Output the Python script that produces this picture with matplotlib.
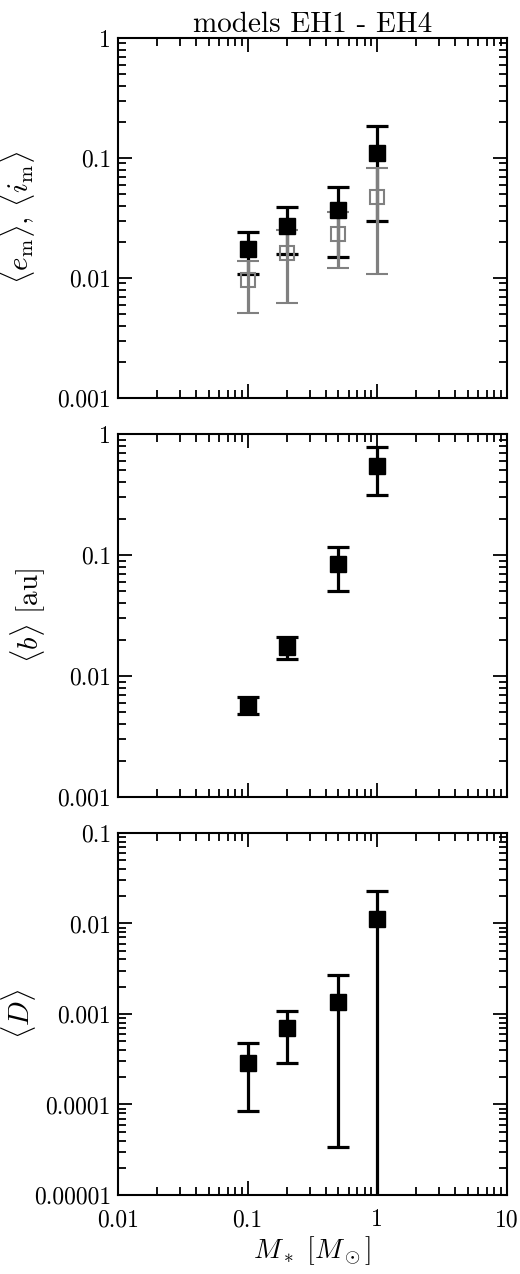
import numpy as np
import matplotlib
matplotlib.use("Agg")
from matplotlib import pyplot as plt
from matplotlib import ticker

plt.rcParams['font.family'] = 'serif'
plt.rcParams['font.serif'] = ['cmr10', 'DejaVu Serif']
plt.rcParams['mathtext.fontset'] = 'cm'
plt.rcParams['axes.formatter.use_mathtext'] = True

# stellar masses
mass = [0.1, 0.2, 0.5, 1.0]

# <e_m> (black, filled) with lower/upper bar ends
ecc = [0.0176, 0.0271, 0.0366, 0.109]
ecc_lo = [0.0107, 0.0157, 0.0151, 0.0297]
ecc_hi = [0.024, 0.0388, 0.057, 0.185]

# <i_m> (grey, open)
inc = [0.0096, 0.0160, 0.0234, 0.0473]
inc_lo = [0.0051, 0.0062, 0.0121, 0.0107]
inc_hi = [0.0139, 0.0253, 0.0353, 0.083]

# <b> [au]
bval = [0.00574, 0.01745, 0.0839, 0.547]
b_lo = [0.0049, 0.0137, 0.0501, 0.313]
b_hi = [0.00676, 0.0211, 0.1174, 0.785]

# <D>
dval = [0.000284, 0.000692, 0.00136, 0.01133]
d_lo = [8.5e-5, 0.000287, 3.39e-5, 1e-9]
d_hi = [0.000476, 0.00109, 0.0027, 0.0231]

xticks = [0.01, 0.1, 1, 10]
xticklabels = ['0.01', '0.1', '1', '10']


def bars(v, lo, hi):
    v = np.array(v)
    return np.array([v - np.array(lo), np.array(hi) - v])


def style_axis(ax, ylo, yhi, ylabels):
    ax.set_xscale('log')
    ax.set_yscale('log')
    ax.set_xlim(0.01, 10)
    ax.set_ylim(ylo, yhi)
    ax.tick_params(which='both', direction='in', top=True, right=True, width=1.3)
    ax.tick_params(which='major', length=10)
    ax.tick_params(which='minor', length=6)
    ax.tick_params(axis='both', labelsize=17)
    ax.tick_params(axis='y', pad=5)
    ax.tick_params(axis='x', pad=10)
    ax.set_xticks(xticks)
    ax.set_xticklabels(xticklabels)
    ax.xaxis.set_minor_locator(ticker.LogLocator(base=10, subs=np.arange(2, 10)))
    ax.xaxis.set_minor_formatter(ticker.NullFormatter())
    yt = [10.0 ** k for k in range(int(round(np.log10(ylo))), int(round(np.log10(yhi))) + 1)]
    ax.set_yticks(yt)
    ax.set_yticklabels(ylabels)
    ax.yaxis.set_minor_locator(ticker.LogLocator(base=10, subs=np.arange(2, 10), numticks=20))
    ax.yaxis.set_minor_formatter(ticker.NullFormatter())
    for s in ax.spines.values():
        s.set_linewidth(1.5)


fig = plt.figure(figsize=(5.2, 12.74), dpi=100)
ax1 = fig.add_axes([0.227, 0.6876, 0.748, 0.2826])
ax2 = fig.add_axes([0.227, 0.3744, 0.748, 0.2849])
ax3 = fig.add_axes([0.227, 0.0620, 0.748, 0.2842])

ekw = dict(elinewidth=2.3, capsize=8, capthick=2.3, linestyle='none')

ax1.errorbar(mass, ecc, yerr=bars(ecc, ecc_lo, ecc_hi), fmt='s', color='black',
             ms=11, **ekw)
ax1.errorbar(mass, inc, yerr=bars(inc, inc_lo, inc_hi), fmt='s', color='#808080',
             mfc='none', mec='#808080', mew=1.5, ms=9.5, **ekw)
style_axis(ax1, 0.001, 1, ['0.001', '0.01', '0.1', '1'])
ax1.set_xticklabels([])
ax1.set_ylabel(r'$\langle e_{\rm m}\rangle,\, \langle i_{\rm m}\rangle$', fontsize=21)
ax1.yaxis.set_label_coords(-0.208, 0.5)
ax1.set_title('models EH1 - EH4', fontsize=21, pad=4)

ax2.errorbar(mass, bval, yerr=bars(bval, b_lo, b_hi), fmt='s', color='black',
             ms=11, **ekw)
style_axis(ax2, 0.001, 1, ['0.001', '0.01', '0.1', '1'])
ax2.set_xticklabels([])
ax2.set_ylabel(r'$\langle b\rangle$ [au]', fontsize=21)
ax2.yaxis.set_label_coords(-0.18, 0.5)

ax3.errorbar(mass, dval, yerr=bars(dval, d_lo, d_hi), fmt='s', color='black',
             ms=11, **ekw)
style_axis(ax3, 1e-5, 0.1, ['0.00001', '0.0001', '0.001', '0.01', '0.1'])
ax3.set_ylabel(r'$\langle D\rangle$', fontsize=21)
ax3.yaxis.set_label_coords(-0.206, 0.5)
ax3.set_xlabel(r'$M_*\ [M_\odot]$', fontsize=20, labelpad=2)

fig.savefig('out.png', dpi=100)
